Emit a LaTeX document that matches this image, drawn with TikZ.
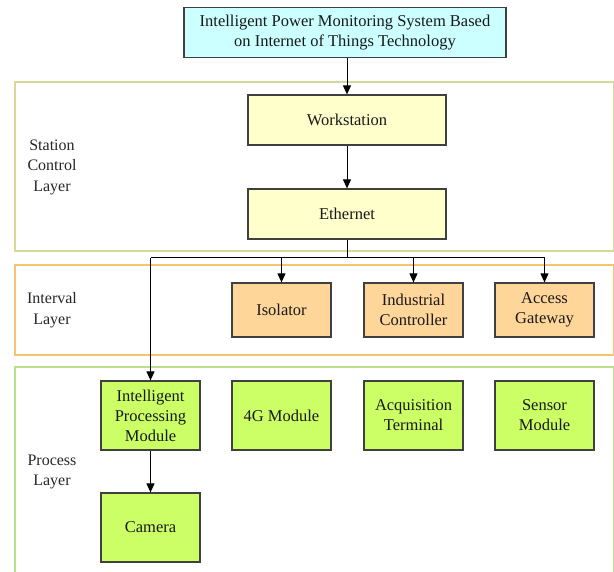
\documentclass[tikz,border=0pt]{standalone}
\usepackage{fontspec}
\setmainfont{Liberation Serif}
\usetikzlibrary{arrows.meta}
\definecolor{titlefill}{HTML}{CCFFFF}
\definecolor{wsfill}{HTML}{FFFFCC}
\definecolor{orfill}{HTML}{FFD699}
\definecolor{grfill}{HTML}{CCFF66}
\definecolor{stframe}{HTML}{D8D89A}
\definecolor{inframe}{HTML}{F6C46E}
\definecolor{prframe}{HTML}{B8E08E}
\definecolor{boxline}{HTML}{404040}
\tikzset{
  box/.style={draw=boxline, line width=1.2pt, align=center, inner sep=2pt,
    font=\fontsize{16.5}{20}\selectfont, text=black!90},
  titlebox/.style={box, fill=titlefill, minimum width=322pt, minimum height=50pt},
  ybox/.style={box, fill=wsfill, minimum width=198pt, minimum height=50pt},
  obox/.style={box, fill=orfill, minimum width=99pt, minimum height=54pt},
  gbox/.style={box, fill=grfill, minimum width=99pt, minimum height=69pt},
  frame/.style={line width=1.2pt},
  lbl/.style={align=center, font=\fontsize{16}{20.5}\selectfont, text=black!85},
  conn/.style={line width=1pt, -{Triangle[length=9pt,width=8pt]}},
  plain/.style={line width=1pt}
}
\begin{document}
\begin{tikzpicture}[x=1pt,y=-1pt]
\useasboundingbox (0,0) rectangle (614,572);
% layer frames
\draw[frame, draw=stframe] (15,82) rectangle (613.4,251);
\draw[frame, draw=inframe] (15,265) rectangle (613.4,355);
\draw[frame, draw=prframe] (15,367) rectangle (613.4,580);
% layer labels
\node[lbl] (lst) at (52,167) {Station\\Control\\Layer};
\node[lbl] (lin) at (52,310) {Interval\\Layer};
\node[lbl] (lpr) at (52,472) {Process\\Layer};
% nodes
\node[titlebox] (title) at (345,32.5) {Intelligent Power Monitoring System Based\\on Internet of Things Technology};
\node[ybox] (ws) at (347,120) {Workstation};
\node[ybox] (eth) at (347,214) {Ethernet};
\node[obox] (iso) at (281.5,310) {Isolator};
\node[obox] (ic) at (413.5,310) {Industrial\\Controller};
\node[obox] (ag) at (544.5,310) {Access\\Gateway};
\node[gbox] (ipm) at (150.5,415.5) {Intelligent\\Processing\\Module};
\node[gbox] (g4) at (281.5,415.5) {4G Module};
\node[gbox] (acq) at (413.5,415.5) {Acquisition\\Terminal};
\node[gbox] (sen) at (544.5,415.5) {Sensor\\Module};
\node[gbox] (cam) at (150.5,527.5) {Camera};
% connectors
\coordinate (bus) at (347,258);
\draw[conn] (title.south -| ws.north) -- (ws.north);
\draw[conn] (ws) -- (eth);
\draw[plain] (eth.south) -- (bus);
\draw[plain] (ipm.north |- bus) -- (ag.north |- bus);
\draw[conn] (bus -| iso.north) -- (iso.north);
\draw[conn] (bus -| ic.north) -- (ic.north);
\draw[conn] (bus -| ag.north) -- (ag.north);
\draw[conn] (bus -| ipm.north) -- (ipm.north);
\draw[conn] (ipm) -- (cam);
\end{tikzpicture}
\end{document}
